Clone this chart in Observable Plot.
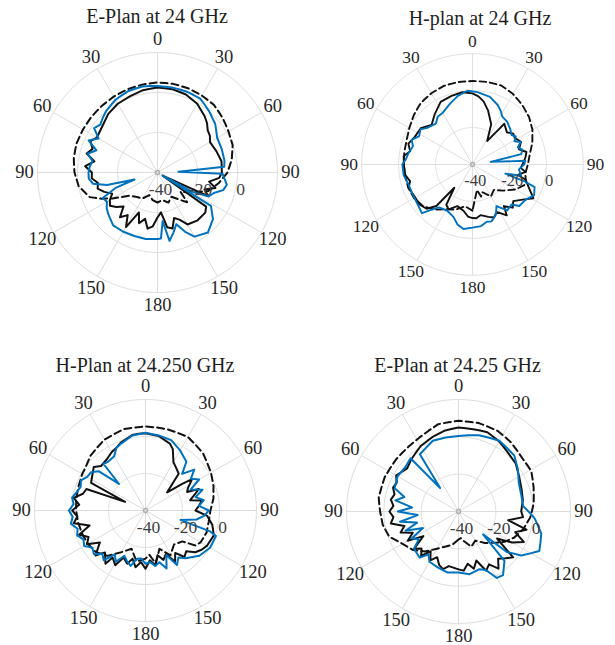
<!DOCTYPE html>
<html><head><meta charset="utf-8">
<script src="https://cdn.jsdelivr.net/npm/d3@7"></script>
<script src="https://cdn.jsdelivr.net/npm/@observablehq/plot@0.6"></script>
<style>
html,body{margin:0;padding:0;background:#fff;}
#root{position:relative;width:615px;height:645px;overflow:hidden;font-family:"Liberation Serif","Times New Roman",serif;}
.title{position:absolute;width:320px;text-align:center;font-size:20px;line-height:20px;color:#1e1e1e;white-space:nowrap;}
.panel{position:absolute;}
.panel svg text{font-family:"Liberation Serif","Times New Roman",serif;}
</style></head><body><div id="root"></div>
<script>
// ---- axis ticks ----
const thetaTicks = [0, 30, 60, 90, 120, 150, 180, -150, -120, -90, -60, -30];
const thetaTickLabels = ["0", "30", "60", "90", "120", "150", "180", "150", "120", "90", "60", "30"];
const rTicks = [-40, -20, 0];
const rRings = [-20, 0, 20];
const rMin = -40, rMax = 20;
const titles = ["E-Plan at 24 GHz", "H-plan at 24 GHz", "H-Plan at 24.250 GHz", "E-Plan at 24.25 GHz"];

// ---- series: [angle (deg, clockwise from top), gain (dB)] ----
const p1Sim = [[-180,-25],[-170,-26],[-160,-28],[-150,-25],[-140,-24],[-130,-22],[-120,-14],[-115,-9],[-110,-4],[-100,0],[-90,1.5],[-80,2.5],[-70,3],[-60,3],[-50,3.2],[-40,3.4],[-30,3.8],[-20,4.2],[-10,4.6],[0,5],[10,5],[20,4.8],[30,4.4],[40,4],[50,2.5],[60,1],[70,0],[80,-2.3],[90,-5],[100,-9],[110,-13],[120,-20],[130,-25],[135,-19],[140,-22],[150,-26],[160,-24],[170,-26],[180,-25]];
const p1Black = [[-180,-17.5],[-175,-13],[-170,-11.5],[-165,-16],[-160,-13],[-155,-18],[-150,-8.5],[-145,-14],[-140,-10.8],[-135,-16],[-130,-13.2],[-125,-11],[-120,-12.5],[-115,-15],[-110,-11.7],[-105,-9],[-100,-9.8],[-95,-7],[-90,-7.2],[-85,-3.7],[-80,-8],[-75,-3.3],[-70,-5.5],[-65,-3],[-60,-5],[-50,-4],[-40,-1.7],[-30,-0.3],[-20,0.5],[-10,1.8],[0,2.5],[10,2.3],[20,1.5],[30,-0.3],[40,-3.3],[45,-5],[50,-7.2],[55,-8],[60,-9.7],[70,-8.7],[80,-7.5],[90,-7.8],[95,-9],[100,-13.8],[105,-10],[110,-15],[115,-12],[121,-37],[125,-10.3],[130,-8.8],[140,-8.8],[150,-10],[155,-14],[160,-15.8],[165,-11],[170,-12.2],[175,-20],[180,-17.5]];
const p1Blue = [[-180,-6.7],[-170,-6.2],[-160,-6.2],[-150,-5.8],[-140,-5.5],[-130,-7.8],[-125,-9],[-120,-10.8],[-115,-9.8],[-110,-18],[-107,-28],[-104,-14],[-100,-7.3],[-95,-5.5],[-90,-5.5],[-85,-6],[-80,-7],[-75,-3.8],[-70,-7.5],[-65,-2],[-60,-6],[-55,-1.3],[-50,-2.7],[-45,-1.3],[-40,0],[-30,2],[-20,3.2],[-10,3.7],[0,3.3],[10,3.1],[20,3],[30,2.7],[40,0.1],[50,-2.3],[60,-5.5],[70,-5.8],[80,-6],[85,-6.5],[88,-29.5],[91,-7.5],[100,-4.8],[105,-6],[110,-10],[115,-11.7],[119,-20],[120.5,-37],[122,-8.5],[130,-3.8],[140,-0.8],[150,-3],[155,-7.3],[160,-12.5],[165,-9],[170,-5.3],[174,-15.5],[177,-7],[180,-6.7]];

const p2Sim = [[-180,-15],[-170,-17],[-160,-14],[-150,-12],[-140,-8],[-130,-5],[-120,-3.5],[-110,-3],[-100,-3],[-90,-2.8],[-80,-2.5],[-70,-2],[-60,-0.5],[-50,1.5],[-40,3.5],[-30,4.5],[-20,5.3],[-10,5.3],[0,5.2],[10,5.4],[20,5.5],[30,4],[40,2],[50,0],[60,-2.5],[70,-5.5],[80,-8.5],[90,-10],[100,-11],[110,-9],[120,-13],[130,-18],[140,-22],[150,-20],[160,-24],[165,-22],[170,-26],[180,-15]];
const p2Black = [[-180,-11],[-175,-11.7],[-169,-14.5],[-160,-16],[-152,-12.5],[-147,-14],[-142,-24],[-139,-10.2],[-134,-5.5],[-127,-4],[-119,-4.2],[-110,-3.2],[-105,-5],[-99,-3.2],[-90,-2.8],[-83,-2.5],[-78,-5.5],[-72,-3.5],[-65,-5.3],[-55,-5.8],[-46,-9.2],[-37,-6],[-27,-2],[-17,-1.2],[-8,-0.5],[0,-1.5],[5,-3],[10,-5.3],[16,-9.5],[25,-16],[32,-25],[36,-18.3],[38,-12],[47,-14.5],[53,-12.3],[58,-13],[65,-11],[72,-13.5],[77,-10],[82,-11],[87,-12.2],[94,-13.8],[98,-11],[103,-14.8],[106,-10],[112,-7.2],[119,-2.3],[125,-6.8],[132,-10.3],[137,-8],[143,-11.8],[146,-6.8],[153,-11.2],[158,-9],[163,-10.3],[171,-12.2],[176,-10.8],[180,-11]];
const p2Blue = [[-180,-5.8],[-172,-4.7],[-166,-6.5],[-160,-9.8],[-151,-11.5],[-142,-10.5],[-137,-6],[-134,-2],[-126,-3.3],[-117,-3.8],[-107,-3.7],[-99,-2.3],[-90,-2],[-86,-3.7],[-80,-4.8],[-73,-6.3],[-68,-4.5],[-62,-7.3],[-56,-6],[-51,-8.5],[-42,-10.3],[-36,-8],[-30,-7.7],[-20,-4.8],[-12,-2],[-4,0],[4,-0.7],[14.5,-2.2],[23,-5],[28,-7.3],[32,-9.5],[39,-10.2],[47,-12],[53,-13.5],[57,-12],[61,-14],[65,-11.2],[69.5,-13.8],[73.5,-11.8],[78,-13],[82,-30],[86,-11.3],[90,-12],[96,-14.7],[103,-13],[105.7,-21.5],[108,-10.2],[110,-4.2],[116.5,-2.7],[123.7,-5.5],[131.6,-6.1],[135.7,-9.7],[143,-8.8],[150,-14],[155,-10],[161.5,-7.5],[166,-8],[172,-6.3],[180,-5.8]];

const p3Sim = [[-180,-14],[-170,-12],[-160,-18],[-150,-14],[-140,-8],[-130,-5],[-120,-4],[-110,-3.5],[-100,-3],[-90,-2.5],[-80,-2],[-70,-1.5],[-60,-0.5],[-55,-0.2],[-45,2],[-30,4.3],[-15,5.5],[0,5.5],[15,5.5],[30,5.9],[45,3.9],[60,0.9],[70,-0.9],[80,-2.7],[90,-4.9],[100,-5.3],[110,-4.9],[120,-5.6],[125,-7],[130,-14],[140,-16],[151,-12.3],[160,-18],[169,-10.7],[175,-16],[180,-14]];
const p3Black = [[-180,-8.5],[-175,-12],[-170,-8.9],[-165,-13],[-161,-9.6],[-155,-12],[-151,-6.2],[-145,-9],[-143,-4],[-136,-8.5],[-132,-3.6],[-125,-9.9],[-120,-3.5],[-115,-6],[-110,-1.8],[-105,-8.7],[-100,-0.6],[-95,-3],[-90,-0.4],[-85,-4],[-80,-0.6],[-75,-5],[-70,-6],[-67,-28],[-63,-7],[-55,-5.1],[-50,-3.5],[-45,-6],[-37,-5.3],[-30,-3.5],[-26,-2.9],[-20,-1],[-10,1.4],[-5,1.6],[0,1.8],[10,0.9],[20,-1.5],[24,-3.7],[30,-9.8],[36,-11.7],[42,-13.2],[50,-24.7],[54,-15.5],[56,-9.6],[62,-14],[66,-15.4],[68,-8.9],[72,-12],[77,-15.2],[80,-9],[85,-11],[90,-13],[95,-6.5],[102,-3.1],[110,-0.7],[120,-1.7],[125,-3],[130,-4.9],[135,-8.9],[140,-7.2],[145,-12],[150,-8],[155,-14],[160,-11.6],[165,-15],[170,-10],[175,-13],[180,-8.5]];
const p3Blue = [[-180,-11.2],[-175,-14],[-170,-13.5],[-165,-9],[-160,-10.8],[-155,-13],[-150,-8],[-145,-11],[-140,-4.9],[-135,-7],[-130,-3.5],[-125,-5],[-120,-1.7],[-115,-3],[-110,-0.7],[-105,-2],[-100,1],[-95,-0.5],[-90,1.4],[-85,-1],[-80,0.3],[-75,-1.5],[-70,-2.7],[-65,-1.5],[-60,-3.6],[-55,-4],[-50,-6.9],[-45,-19.7],[-42,-6],[-38,-6.8],[-30,-6.2],[-25,-2.7],[-20,-1.5],[-10,1.2],[0,2],[10,1.2],[20,0.5],[30,-2.5],[40,-5.6],[45,-12],[50,-5.6],[55,-10],[60,-6.5],[65,-13],[70,-7.2],[75,-12],[80,-8],[85,-11],[90,-5.8],[95,-8],[100,-12],[105,-20.4],[108,-3],[110,0.5],[120,0.3],[130,-2],[140,-6.3],[145,-9],[150,-6],[155,-13.4],[160,-6.7],[165,-11],[170,-9.6],[175,-12],[180,-11.2]];

const p4Sim = [[-180,-25],[-170,-22],[-160,-20],[-150,-17],[-140,-12],[-130,-8],[-120,-5.4],[-110,-0.5],[-100,1.2],[-90,2],[-80,3.4],[-65,3.6],[-50,3.6],[-38,3.8],[-28,4.8],[-13,8],[0,8.6],[13,8.6],[26,8],[37,6.5],[51,4.5],[61,4.6],[72,2.3],[84,0.5],[95,-1.5],[105,-4],[115,-7],[123,-10.3],[130,-14],[140,-18],[150,-22],[160,-20],[170,-24],[175,-25.7],[180,-25]];
const p4Black = [[-180,-9],[-170,-10.3],[-165,-8],[-160,-9.6],[-155,-13],[-150,-9.8],[-145,-14],[-140,-8.9],[-135,-12],[-130,-9],[-125,-17],[-120,-8.6],[-115,-13],[-110,-7],[-105,-10],[-100,-3.2],[-95,-5],[-90,-3],[-85,-5],[-80,-3.2],[-75,-4.5],[-70,-2.7],[-65,-3.5],[-60,-1.4],[-50,-4.1],[-42,-2.3],[-30,0.5],[-18,2.5],[-10,3.9],[0,5],[10,4.8],[20,5.2],[30,3.4],[40,1.2],[50,0],[60,-2.5],[70,-4.1],[80,-5],[90,-6.4],[95,-5.3],[100,-13],[105,-2.3],[110,-7.7],[115,-1.4],[120,-6.8],[125,-14.8],[130,-1.8],[135,-4.5],[140,-7],[145,-2.6],[150,-7.3],[155,-5],[160,-12.1],[165,-8.2],[170,-11.6],[175,-8.2],[180,-9]];
const p4Blue = [[-180,-7.3],[-170,-6.8],[-160,-8],[-150,-8.9],[-145,-12],[-140,-7.7],[-130,-8.9],[-125,-14],[-120,-11],[-115,-19],[-110,-9.8],[-105,-17],[-100,-8.2],[-95,-18],[-90,-7.5],[-85,-15],[-80,-5.7],[-75,-10],[-70,-3.6],[-60,-2.3],[-50,-2.9],[-42,-1.6],[-38,-24],[-34,-3],[-25,-1.2],[-20,0.3],[-10,0.3],[0,0.5],[15,2.3],[30,3.8],[45,2.3],[55,-1.1],[65,-4.3],[75,-5.2],[85,-5.3],[95,0.9],[105,5.9],[116,8.2],[125,1.1],[130,-6.2],[133,-22],[137,-3.9],[145,1.6],[150,1.1],[155,-5.4],[160,-7.1],[170,-5.9],[180,-7.3]];

// ---- layout (pixels) ----
const layout = [
  {cx: 157, cy: 172, R: 120, ty: 16},
  {cx: 480, cy: 171.5, R: 117, ty: 18},
  {cx: 145, cy: 510, R: 111, ty: 365},
  {cx: 457.5, cy: 511, R: 112, ty: 365}
];
const seriesSets = [
  [p1Sim, p1Black, p1Blue],
  [p2Sim, p2Black, p2Blue],
  [p3Sim, p3Black, p3Blue],
  [p4Sim, p4Black, p4Blue]
];

const root = document.getElementById("root");
const serif = "Liberation Serif, Times New Roman, serif";
const lon = t => 180 - t;               // clockwise from top
const lat = db => 90 - (db - rMin);     // centre = rMin
const ring = db => d3.geoCircle().center([0, 90]).radius(db - rMin).precision(1)();
const asLine = pts => ({type: "LineString", coordinates: pts.map(([t, db]) => [lon(t), lat(db)])});

layout.forEach((L, k) => {
  const pad = 34;
  const S = 2 * (L.R + pad);
  const span = rMax - rMin;
  const proj = d3.geoAzimuthalEquidistant()
    .rotate([0, -90])
    .scale(L.R / (span * Math.PI / 180))
    .translate([S / 2, S / 2])
    .precision(0.1);
  const labLat = 90 - span * (L.R + 13) / L.R;
  const [sim, black, blue] = seriesSets[k];
  const grid = "#dcdcdc";
  const svg = Plot.plot({
    width: S, height: S, margin: 0,
    projection: proj,
    style: {background: "transparent", overflow: "visible", fontFamily: serif},
    marks: [
      Plot.geo(rRings, {geometry: ring, stroke: grid, strokeWidth: 1, fill: "none"}),
      Plot.link(thetaTicks, {x1: lon, y1: 90, x2: lon, y2: lat(rMax), stroke: grid, strokeWidth: 1}),
      Plot.dot([0], {x: 0, y: 90, r: 2, stroke: "#b0b0b0", fill: "none"}),
      Plot.geo([asLine(sim)], {stroke: "#111", strokeWidth: 2, strokeDasharray: "7,4", fill: "none"}),
      Plot.geo([asLine(black)], {stroke: "#111", strokeWidth: 2, fill: "none", strokeLinejoin: "round"}),
      Plot.geo([asLine(blue)], {stroke: "#0072BD", strokeWidth: 2, fill: "none", strokeLinejoin: "round"}),
      Plot.text(thetaTicks, {x: lon, y: labLat, text: (d, i) => thetaTickLabels[i], fontSize: 18.5, fontFamily: serif, fill: "#262626"}),
      Plot.text(rTicks, {x: 90, y: lat, text: d => String(d), dx: 3, dy: 17, fontSize: 17.5, fontFamily: serif, fill: "#404040"})
    ]
  });
  const box = document.createElement("div");
  box.className = "panel";
  box.style.left = (L.cx - S / 2) + "px";
  box.style.top = (L.cy - S / 2) + "px";
  box.appendChild(svg);
  root.appendChild(box);
  const t = document.createElement("div");
  t.className = "title";
  t.textContent = titles[k];
  t.style.left = (L.cx - 160) + "px";
  t.style.top = (L.ty - 10) + "px";
  root.appendChild(t);
});
</script></body></html>
